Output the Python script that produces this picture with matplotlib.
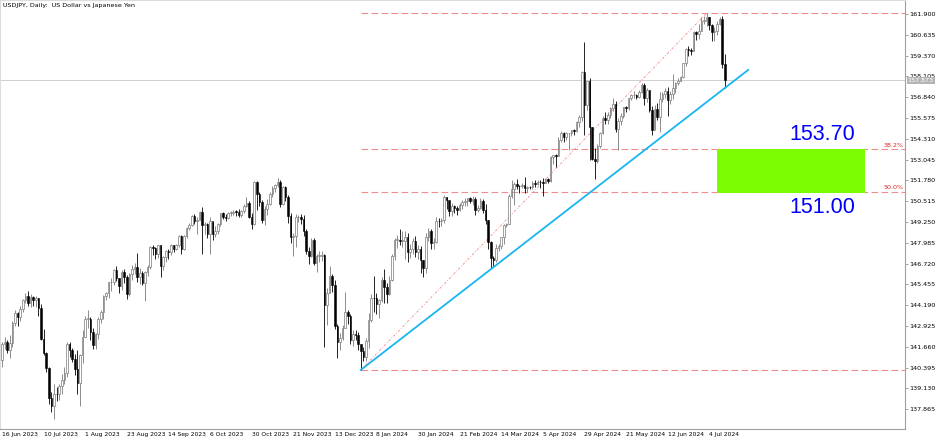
import numpy as np
import matplotlib.pyplot as plt
import matplotlib.transforms as mtransforms
from matplotlib.patches import Rectangle

title = 'USDJPY, Daily:  US Dollar vs Japanese Yen'

# one label every 16 daily bars, starting at bar 0 (16 Jun 2023)
date_labels = ['16 Jun 2023', '10 Jul 2023', '1 Aug 2023', '23 Aug 2023', '14 Sep 2023',
               '6 Oct 2023', '30 Oct 2023', '21 Nov 2023', '13 Dec 2023', '8 Jan 2024',
               '30 Jan 2024', '21 Feb 2024', '14 Mar 2024', '5 Apr 2024', '29 Apr 2024',
               '21 May 2024', '12 Jun 2024', '4 Jul 2024']
label_step = 16

open0 = 140.85
closes = [
    141.83, 141.95, 141.45, 141.88, 143.10, 143.72, 143.48, 143.96, 144.48, 144.74,
    144.31, 144.66, 144.49, 144.63, 144.02, 142.16, 141.31, 140.36, 138.56, 138.04,
    138.80, 138.76, 139.26, 139.66, 140.05, 141.80, 141.49, 140.91, 140.28, 139.48,
    141.13, 142.28, 143.35, 143.35, 142.56, 141.75, 142.46, 143.37, 143.77, 144.72,
    144.95, 145.57, 145.59, 146.35, 145.83, 145.36, 146.19, 145.88, 144.84, 146.11,
    146.41, 146.54, 145.88, 146.17, 145.54, 146.21, 146.51, 147.72, 147.65, 147.30,
    147.82, 146.56, 147.12, 147.46, 147.45, 147.85, 147.59, 147.87, 148.37, 147.59,
    148.37, 148.88, 149.06, 149.64, 149.32, 149.37, 149.86, 149.04, 149.13, 148.49,
    149.32, 148.52, 148.73, 149.13, 149.78, 149.57, 149.52, 149.80, 149.81, 149.88,
    149.86, 149.70, 149.89, 150.24, 150.40, 149.57, 149.11, 151.67, 150.97, 150.47,
    149.40, 150.05, 150.37, 150.94, 151.33, 151.52, 151.68, 150.36, 151.37, 150.74,
    149.60, 148.35, 148.39, 149.55, 149.55, 149.44, 148.69, 147.46, 147.20, 148.17,
    146.78, 147.19, 147.19, 147.25, 144.21, 144.95, 145.94, 145.40, 142.90, 141.92,
    142.18, 142.80, 143.79, 143.53, 142.09, 142.42, 142.40, 141.80, 141.40, 141.03,
    142.00, 143.30, 144.63, 144.60, 144.24, 144.50, 145.75, 145.30, 144.87, 145.75,
    147.15, 148.17, 148.18, 148.12, 148.12, 148.35, 147.45, 147.60, 148.12, 147.42,
    147.58, 146.92, 146.44, 148.36, 148.70, 147.96, 148.01, 149.30, 149.28, 149.36,
    150.75, 150.56, 149.93, 150.22, 150.09, 149.96, 150.29, 150.48, 150.51, 150.68,
    150.51, 150.67, 149.97, 150.10, 150.51, 149.99, 149.35, 148.06, 147.05, 146.94,
    147.68, 147.78, 148.31, 149.05, 149.15, 150.86, 151.26, 151.59, 151.43, 151.42,
    151.52, 151.33, 151.38, 151.35, 151.65, 151.56, 151.68, 151.67, 151.63, 151.86,
    151.76, 153.19, 153.30, 153.28, 154.24, 154.68, 154.44, 154.64, 154.64, 154.83,
    154.80, 155.33, 155.61, 158.35, 156.36, 157.80, 155.02, 153.06, 152.96, 153.88,
    154.66, 155.55, 155.47, 155.78, 156.20, 156.42, 154.90, 155.41, 155.67, 156.24,
    156.18, 156.79, 156.95, 156.98, 156.86, 157.17, 157.61, 156.81, 157.30, 156.08,
    154.84, 156.12, 155.62, 156.75, 157.04, 157.21, 156.66, 157.03, 157.39, 157.73,
    157.85, 158.09, 158.92, 159.78, 159.70, 159.68, 160.79, 160.71, 160.88, 161.48,
    161.48, 161.70, 161.24, 160.78, 160.84, 161.30, 161.62, 158.85, 157.87]
highs = [
    141.95, 142.25, 142.05, 142.35, 143.20, 143.87, 143.76, 144.15, 144.58, 144.90,
    145.07, 144.87, 144.72, 144.75, 144.62, 144.24, 142.74, 141.35, 140.42, 138.90,
    139.42, 139.20, 139.40, 139.98, 140.44, 141.95, 141.96, 141.60, 141.23, 141.45,
    141.20, 142.70, 143.55, 143.89, 143.45, 142.79, 142.52, 143.48, 143.90, 144.82,
    145.00, 145.58, 145.86, 146.40, 146.57, 145.84, 146.30, 146.36, 146.00, 146.12,
    146.64, 146.75, 147.37, 146.48, 146.29, 146.28, 146.63, 147.81, 147.87, 147.72,
    147.87, 147.86, 147.20, 147.55, 147.60, 147.94, 147.85, 147.93, 148.45, 148.45,
    148.45, 148.97, 149.17, 149.70, 149.71, 149.58, 149.91, 150.16, 149.23, 149.20,
    149.53, 149.25, 148.99, 149.20, 149.82, 149.84, 149.75, 149.86, 149.91, 149.99,
    150.00, 150.06, 149.96, 150.35, 150.78, 150.52, 149.80, 151.72, 151.72, 151.06,
    150.60, 150.20, 150.65, 151.10, 151.44, 151.59, 151.91, 151.80, 151.43, 151.43,
    150.88, 149.78, 148.55, 149.75, 149.67, 149.76, 149.66, 148.85, 147.70, 148.30,
    148.25, 147.31, 147.48, 147.48, 147.30, 145.22, 146.59, 146.10, 145.70, 143.05,
    142.52, 142.97, 144.96, 143.90, 143.67, 142.65, 142.67, 142.54, 141.85, 141.65,
    142.21, 143.73, 144.84, 145.98, 144.90, 144.56, 145.90, 146.41, 145.55, 145.97,
    147.30, 148.29, 148.47, 148.81, 148.68, 148.70, 148.55, 147.90, 148.25, 148.37,
    147.85, 147.81, 146.96, 148.59, 148.89, 148.80, 148.25, 149.57, 149.47, 149.50,
    150.88, 150.79, 150.54, 150.38, 150.30, 150.22, 150.40, 150.58, 150.68, 150.72,
    150.74, 150.84, 150.75, 150.27, 150.69, 150.62, 150.35, 149.40, 148.12, 147.17,
    147.91, 147.91, 148.35, 149.15, 149.20, 150.96, 151.82, 151.70, 151.86, 151.52,
    151.65, 151.97, 151.43, 151.41, 151.76, 151.78, 151.80, 151.79, 151.92, 151.94,
    151.94, 153.24, 153.32, 153.39, 154.44, 154.79, 154.73, 154.70, 154.65, 154.86,
    154.88, 155.37, 155.74, 158.44, 160.21, 157.81, 157.99, 155.00, 153.75, 154.00,
    154.74, 155.67, 155.95, 155.95, 156.24, 156.80, 156.61, 155.60, 155.86, 156.27,
    156.31, 156.80, 157.02, 157.19, 157.06, 157.27, 157.71, 157.73, 157.42, 157.27,
    156.33, 156.38, 156.49, 157.16, 157.17, 157.37, 157.45, 157.20, 158.26, 157.75,
    158.00, 158.12, 158.94, 159.83, 159.93, 159.82, 160.87, 160.87, 161.28, 161.72,
    161.75, 161.95, 161.72, 161.31, 161.08, 161.45, 161.73, 161.76, 159.45]
lows = [
    140.45, 141.50, 141.25, 141.00, 141.65, 142.95, 142.93, 143.20, 143.75, 144.30,
    144.11, 144.05, 144.16, 144.05, 143.54, 142.06, 141.13, 140.15, 138.15, 137.68,
    137.24, 138.35, 138.45, 138.78, 139.40, 139.80, 141.05, 140.75, 139.95, 138.80,
    138.05, 140.70, 142.25, 142.80, 142.05, 141.55, 141.52, 142.13, 143.10, 143.35,
    144.50, 144.60, 145.05, 145.40, 145.65, 144.93, 145.10, 145.52, 144.55, 144.75,
    145.71, 146.08, 145.62, 145.50, 145.40, 144.44, 145.95, 146.40, 147.25, 146.98,
    147.08, 145.91, 146.30, 146.83, 147.00, 147.25, 147.45, 147.55, 147.70, 147.32,
    147.55, 148.30, 148.78, 149.01, 149.15, 148.52, 149.35, 147.30, 148.52, 148.27,
    147.29, 148.16, 148.34, 148.54, 149.01, 149.45, 149.33, 149.42, 149.60, 149.70,
    149.64, 149.58, 149.57, 149.79, 150.15, 149.50, 148.82, 149.05, 150.00, 150.23,
    149.20, 149.08, 149.68, 150.28, 150.78, 151.09, 151.40, 150.15, 150.30, 150.50,
    149.19, 147.95, 147.15, 147.74, 149.26, 149.15, 148.37, 147.30, 146.67, 147.14,
    146.64, 146.23, 146.82, 146.87, 141.67, 142.99, 144.95, 144.97, 142.76, 140.97,
    141.49, 142.05, 142.78, 143.03, 141.85, 141.71, 142.09, 141.45, 140.25, 140.80,
    140.82, 141.58, 143.15, 143.80, 143.66, 143.41, 144.37, 144.35, 144.35, 144.80,
    145.68, 146.95, 147.68, 147.85, 147.72, 146.98, 146.82, 147.05, 147.30, 147.13,
    147.01, 146.15, 145.90, 146.16, 148.07, 147.63, 147.61, 147.97, 148.95, 149.01,
    149.21, 150.05, 149.60, 149.60, 149.80, 149.68, 149.93, 150.05, 150.25, 150.20,
    150.38, 150.29, 149.67, 149.86, 150.05, 149.80, 149.12, 147.60, 146.48, 146.49,
    146.79, 147.48, 147.60, 147.92, 148.92, 149.15, 150.72, 150.26, 151.26, 151.04,
    151.33, 151.03, 151.10, 151.24, 151.27, 151.40, 151.50, 151.29, 150.81, 151.60,
    151.65, 151.70, 152.75, 152.60, 153.27, 154.12, 154.13, 154.24, 153.60, 154.50,
    154.56, 154.74, 155.00, 155.37, 154.54, 156.09, 153.04, 152.99, 151.86, 152.82,
    153.74, 154.62, 155.23, 155.22, 155.60, 156.03, 154.72, 153.60, 155.16, 155.60,
    155.91, 156.05, 156.65, 156.80, 156.74, 156.81, 157.08, 156.38, 156.56, 155.92,
    154.55, 154.90, 155.44, 154.71, 156.56, 156.81, 155.72, 156.45, 156.71, 157.12,
    157.60, 157.80, 158.01, 158.75, 159.33, 159.43, 159.65, 160.31, 160.40, 160.87,
    161.30, 161.19, 160.95, 160.24, 160.25, 160.65, 161.25, 158.60, 157.37]

last_price = 157.873

# drawn objects (bar index, price)
fib_x = [138, 271]
fib_y = [140.25, 161.95]
fib_levels = [0.0, 0.382, 0.5, 1.0]
fib_names = ['', '38.2%', '50.0%', '']
trend_x = [138, 287]
trend_y = [140.25, 158.50]
zone_x = [275, 332]
zone_lo, zone_hi = 151.00, 153.70

yticks = [137.865, 139.130, 140.395, 141.660, 142.925, 144.190, 145.455, 146.720,
          147.985, 149.250, 150.515, 151.780, 153.045, 154.310, 155.575, 156.840,
          158.105, 159.370, 160.635, 161.900]


def main():
    W, H = 936, 440
    fig = plt.figure(figsize=(W / 100, H / 100), dpi=100)
    ax = fig.add_axes([0, 11 / H, 905 / W, 429 / H])

    x_lo, x_hi = -0.77, 347.3
    ax.set_xlim(x_lo, x_hi)
    ax.set_ylim(136.657, 162.752)

    c = np.array(closes)
    o = np.concatenate([[open0], c[:-1]])
    hi = np.array(highs)
    lo = np.array(lows)
    x = np.arange(len(c))
    up = c >= o

    # wicks
    ax.vlines(x[up], lo[up], hi[up], color='#7a7a7a', lw=0.6, zorder=2)
    ax.vlines(x[~up], lo[~up], hi[~up], color='black', lw=0.6, zorder=2)
    # bodies
    body_h = np.maximum(np.abs(c - o), 0.03)
    body_b = np.minimum(c, o)
    ax.bar(x[up], body_h[up], bottom=body_b[up], width=0.6, color='white',
           edgecolor='#7a7a7a', linewidth=0.5, zorder=3)
    ax.bar(x[~up], body_h[~up], bottom=body_b[~up], width=0.6, color='black',
           edgecolor='black', linewidth=0.4, zorder=3)

    # current price line
    ax.axhline(last_price, color='#cfcfcf', lw=0.7, zorder=1)

    # fibonacci
    fib_col = '#f08c8c'
    ax.plot(fib_x, fib_y, color=fib_col, lw=0.6, dashes=(3, 2, 1, 2), zorder=1)
    rng = fib_y[1] - fib_y[0]
    for lev, name in zip(fib_levels, fib_names):
        p = fib_y[1] - lev * rng
        ax.plot([fib_x[0], x_hi], [p, p], color=fib_col, lw=0.8, dashes=(6, 3), zorder=1)
        if name:
            ax.text(x_hi - 0.4, p + 0.08, name, color='#e82020', fontsize=4.6,
                    ha='right', va='bottom')

    # trend line
    ax.plot(trend_x, trend_y, color='#19b5f2', lw=1.3, zorder=4)

    # target zone
    ax.add_patch(Rectangle((zone_x[0], zone_lo), zone_x[1] - zone_x[0], zone_hi - zone_lo,
                           facecolor='#7cfc00', edgecolor='none', zorder=2))
    ax.text(315.5, 154.6, '%.2f' % zone_hi, color='#0000ff', fontsize=15.5,
            family='Liberation Sans', ha='center', va='center')
    ax.text(315.5, 150.1, '%.2f' % zone_lo, color='#0000ff', fontsize=15.5,
            family='Liberation Sans', ha='center', va='center')

    # axes styling
    for s in ['left', 'top']:
        ax.spines[s].set_color('#dcdcdc')
        ax.spines[s].set_linewidth(0.8)
    for s in ['right', 'bottom']:
        ax.spines[s].set_color('#a0a0a0')
        ax.spines[s].set_linewidth(0.8)

    ax.yaxis.tick_right()
    ax.set_yticks(yticks)
    ax.set_yticklabels(['%.3f' % v for v in yticks])
    ax.tick_params(axis='y', length=2, width=0.5, pad=1, labelsize=4.6,
                   color='#808080', labelcolor='black')

    ax.set_xticks(np.arange(len(date_labels)) * label_step)
    ax.set_xticklabels(date_labels)
    for t in ax.get_xticklabels():
        t.set_horizontalalignment('left')
    ax.tick_params(axis='x', length=0, pad=2, labelsize=4.3, labelcolor='black')

    # price tag on the axis
    trans = mtransforms.blended_transform_factory(ax.transAxes, ax.transData)
    ax.text(1.003, last_price, '%.3f' % last_price, transform=trans, fontsize=4.6,
            color='white', va='center', ha='left', clip_on=False,
            bbox=dict(facecolor='#b4b4b4', edgecolor='none', pad=0.8))

    fig.text(3 / W, 1 - 6 / H, title, fontsize=4.6, va='center', ha='left')

    fig.savefig('out.png', dpi=100)


if __name__ == '__main__':
    main()
